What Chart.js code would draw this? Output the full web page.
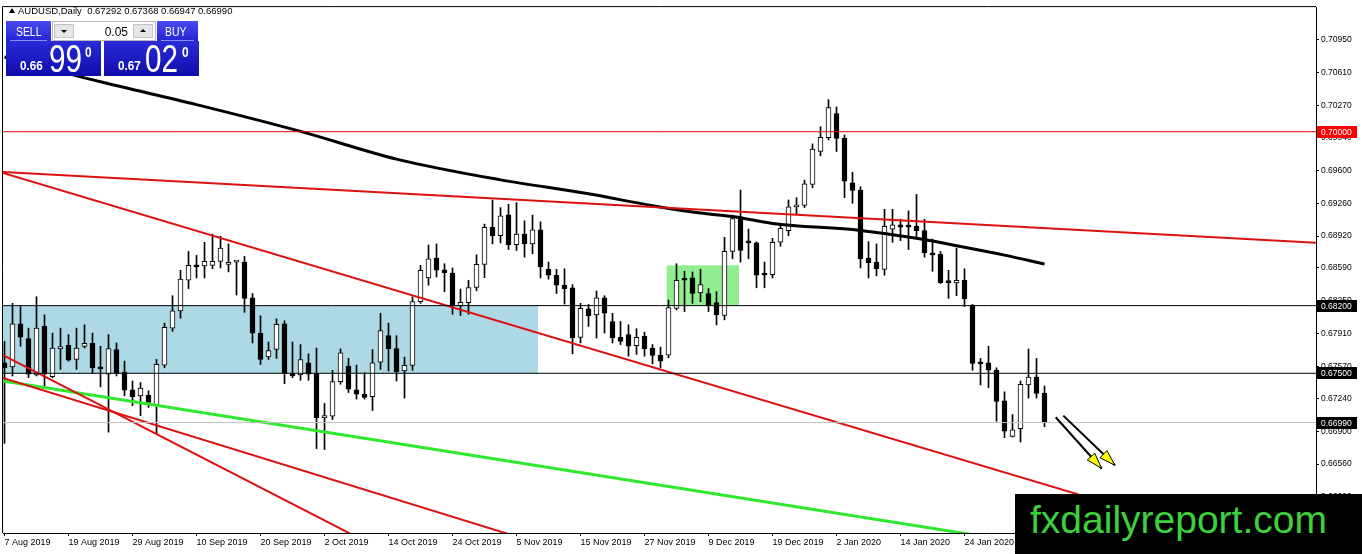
<!DOCTYPE html>
<html>
<head>
<meta charset="utf-8">
<script src="https://cdn.jsdelivr.net/npm/chart.js@4.4.1/dist/chart.umd.min.js"></script>
<style>
  html, body { margin: 0; padding: 0; background: #fff; }
  #wrap { position: relative; width: 1362px; height: 554px; overflow: hidden; font-family: "Liberation Sans", Arial, sans-serif; }
  #chart { position: absolute; left: 0; top: 0; }
  .abs { position: absolute; white-space: pre; }
  #title { left: 18px; top: 6px; font-size: 9.5px; line-height: 9.5px; color: #000; }
  #tri { left: 9px; top: 8px; width: 0; height: 0; border-left: 3px solid transparent; border-right: 3px solid transparent; border-bottom: 5px solid #000; }
  .btn { background: linear-gradient(#4a4af2, #2424d4); color: #fff; height: 20px; top: 21px; }
  .btn span { position: absolute; font-size: 13px; line-height: 13px; top: 4px; transform: scaleX(0.8); transform-origin: left top; }
  .btn i { position: absolute; left: 4px; right: 4px; bottom: 0; height: 1px; background: #8a8aff; }
  #stepper { left: 52px; top: 21px; width: 104px; height: 20px; background: #fff; box-sizing: border-box; border: 1px solid #b8b8b8; }
  .arrowBtn { position: absolute; top: 2px; width: 20px; height: 14px; background: #e6e6e6; border: 1px solid #c4c4c4; box-sizing: border-box; }
  .arrowBtn b { position: absolute; left: 6px; width: 0; height: 0; border-left: 3px solid transparent; border-right: 3px solid transparent; }
  #lot { position: absolute; right: 27px; top: 4px; font-size: 12px; line-height: 12px; color: #000; }
  .quote { top: 41px; width: 95px; height: 35px; background: linear-gradient(#2a2ad8, #0e0eaa); color: #fff; }
  .quote span { position: absolute; transform-origin: left top; }
  .small { font-size: 13px; line-height: 13px; font-weight: bold; top: 18px; transform: scaleX(0.9); }
  .big { font-size: 38px; line-height: 38px; top: -1px; transform: scaleX(0.78); }
  .sup { font-size: 14px; line-height: 14px; font-weight: bold; top: 4px; transform: scaleX(0.85); }
  #brand { left: 1015px; top: 494px; width: 347px; height: 60px; background: #000; }
  #brand span { position: absolute; left: 15px; top: 6px; font-size: 39px; line-height: 39px; color: #3dd13d; }
</style>
</head>
<body>
<div id="wrap">
  <canvas id="chart" width="1362" height="554"></canvas>
  <div class="abs" id="tri"></div>
  <div class="abs" id="title">AUDUSD,Daily  0.67292 0.67368 0.66947 0.66990</div>
  <div class="abs btn" style="left:6px;width:45px;"><span style="left:10px;">SELL</span><i></i></div>
  <div class="abs" id="stepper">
    <div class="arrowBtn" style="left:1px;"><b style="top:5px;border-top:3px solid #000;"></b></div>
    <div id="lot">0.05</div>
    <div class="arrowBtn" style="left:80px;"><b style="top:4px;border-bottom:3px solid #000;"></b></div>
  </div>
  <div class="abs btn" style="left:157px;width:41px;"><span style="left:8px;">BUY</span><i></i></div>
  <div class="abs quote" style="left:6px;">
    <span class="small" style="left:14px;">0.66</span>
    <span class="big" style="left:43px;">99</span>
    <span class="sup" style="left:79px;">0</span>
  </div>
  <div class="abs quote" style="left:104px;">
    <span class="small" style="left:14px;">0.67</span>
    <span class="big" style="left:41px;">02</span>
    <span class="sup" style="left:78px;">0</span>
  </div>
  <div class="abs" id="brand"><span>fxdailyreport.com</span></div>
</div>
<script>
// AUDUSD daily, one bar per trading day from 7 Aug 2019
const xTickLabels = ['7 Aug 2019', '19 Aug 2019', '29 Aug 2019', '10 Sep 2019', '20 Sep 2019', '2 Oct 2019',
  '14 Oct 2019', '24 Oct 2019', '5 Nov 2019', '15 Nov 2019', '27 Nov 2019', '9 Dec 2019', '19 Dec 2019',
  '2 Jan 2020', '14 Jan 2020', '24 Jan 2020'];
const barsPerLabel = 8;

const yTicks = [0.70950, 0.70610, 0.70270, 0.69940, 0.69600, 0.69260, 0.68920, 0.68590, 0.68250,
  0.67910, 0.67570, 0.67240, 0.66900, 0.66560, 0.66220];

const opens = [
  0.67609, 0.67565, 0.68012, 0.67859, 0.67483, 0.67985, 0.67465, 0.67752, 0.67790, 0.67643,
  0.67777, 0.67810, 0.67565, 0.67490, 0.67746, 0.67513, 0.67329, 0.67267, 0.67274, 0.67175,
  0.67585, 0.67967, 0.68146, 0.68463, 0.68617, 0.68610, 0.68617, 0.68658, 0.68627, 0.68651,
  0.68651, 0.68282, 0.67916, 0.67670, 0.67746, 0.68012, 0.67496, 0.67483, 0.67609, 0.67496,
  0.67039, 0.67055, 0.67414, 0.67575, 0.67329, 0.67285, 0.67257, 0.67616, 0.67889, 0.67756,
  0.67524, 0.67582, 0.68241, 0.68487, 0.68692, 0.68572, 0.68538, 0.68200, 0.68231, 0.68388,
  0.68627, 0.69010, 0.68925, 0.69140, 0.68832, 0.68941, 0.68839, 0.68986, 0.68576, 0.68515,
  0.68412, 0.68385, 0.67872, 0.68166, 0.68105, 0.68282, 0.68036, 0.67872, 0.67900, 0.67787,
  0.67882, 0.67762, 0.67688, 0.67688, 0.68172, 0.68474, 0.68487, 0.68333, 0.68326, 0.68231,
  0.68098, 0.68761, 0.69119, 0.68856, 0.68849, 0.68528, 0.68521, 0.68856, 0.68976, 0.69222,
  0.69238, 0.69454, 0.69796, 0.69939, 0.70189, 0.69932, 0.69471, 0.69396, 0.68692, 0.68651,
  0.68576, 0.68992, 0.69037, 0.69027, 0.69020, 0.68976, 0.68733, 0.68730, 0.68446, 0.68436,
  0.68463, 0.68207, 0.67609, 0.67609, 0.67531, 0.67216, 0.66847, 0.66926, 0.67380, 0.67462,
  0.67292];
const highs = [
  0.67831, 0.68224, 0.68190, 0.67967, 0.68292, 0.68105, 0.67916, 0.67967, 0.67900, 0.67967,
  0.68002, 0.67916, 0.67780, 0.67900, 0.67814, 0.67626, 0.67421, 0.67404, 0.67319, 0.67643,
  0.68019, 0.68303, 0.68566, 0.68761, 0.68720, 0.68856, 0.68941, 0.68918, 0.68839, 0.68660,
  0.68709, 0.68326, 0.68094, 0.67824, 0.68064, 0.68043, 0.67824, 0.67797, 0.67701, 0.67762,
  0.67188, 0.67531, 0.67752, 0.67654, 0.67585, 0.67506, 0.67746, 0.68121, 0.68019, 0.67889,
  0.67667, 0.68292, 0.68617, 0.68828, 0.68839, 0.68634, 0.68590, 0.68371, 0.68463, 0.68726,
  0.69044, 0.69294, 0.69215, 0.69249, 0.69266, 0.69078, 0.69136, 0.69068, 0.68651, 0.68576,
  0.68582, 0.68418, 0.68224, 0.68213, 0.68351, 0.68303, 0.68121, 0.68036, 0.68002, 0.67961,
  0.67926, 0.67797, 0.67770, 0.68258, 0.68634, 0.68556, 0.68549, 0.68576, 0.68377, 0.68344,
  0.68907, 0.69136, 0.69396, 0.68992, 0.68860, 0.68651, 0.68897, 0.69044, 0.69294, 0.69317,
  0.69499, 0.69874, 0.70052, 0.70332, 0.70257, 0.69966, 0.69581, 0.69430, 0.68863, 0.68839,
  0.69197, 0.69197, 0.69095, 0.69181, 0.69351, 0.69095, 0.68890, 0.68761, 0.68566, 0.68795,
  0.68582, 0.68213, 0.67654, 0.67780, 0.67557, 0.67308, 0.67073, 0.67421, 0.67752, 0.67654,
  0.67368];
const lows = [
  0.66775, 0.67472, 0.67780, 0.67455, 0.67472, 0.67352, 0.67455, 0.67541, 0.67626, 0.67541,
  0.67762, 0.67506, 0.67360, 0.66891, 0.67472, 0.67267, 0.67165, 0.67062, 0.67147, 0.66875,
  0.67557, 0.67934, 0.68070, 0.68377, 0.68487, 0.68487, 0.68582, 0.68590, 0.68549, 0.68310,
  0.68131, 0.67814, 0.67592, 0.67643, 0.67654, 0.67393, 0.67455, 0.67428, 0.67428, 0.66721,
  0.66711, 0.67021, 0.67387, 0.67301, 0.67233, 0.67233, 0.67114, 0.67541, 0.67524, 0.67421,
  0.67244, 0.67531, 0.68224, 0.68412, 0.68497, 0.68344, 0.68111, 0.68098, 0.68111, 0.68354,
  0.68490, 0.68839, 0.68849, 0.68781, 0.68771, 0.68702, 0.68736, 0.68487, 0.68474, 0.68326,
  0.68217, 0.67701, 0.67814, 0.67985, 0.67865, 0.67916, 0.67814, 0.67797, 0.67677, 0.67695,
  0.67677, 0.67598, 0.67557, 0.67660, 0.68156, 0.68139, 0.68224, 0.68241, 0.68139, 0.68002,
  0.68053, 0.68685, 0.68651, 0.68685, 0.68385, 0.68385, 0.68487, 0.68815, 0.68925, 0.69146,
  0.69215, 0.69420, 0.69751, 0.69915, 0.69796, 0.69317, 0.69259, 0.68590, 0.68487, 0.68508,
  0.68515, 0.68856, 0.68873, 0.68781, 0.68890, 0.68702, 0.68556, 0.68429, 0.68275, 0.68303,
  0.68190, 0.67531, 0.67380, 0.67352, 0.67004, 0.66834, 0.66840, 0.66789, 0.67244, 0.67244,
  0.66947];
const closes = [
  0.67557, 0.68012, 0.67875, 0.67490, 0.67967, 0.67490, 0.67762, 0.67777, 0.67636, 0.67762,
  0.67810, 0.67557, 0.67547, 0.67756, 0.67500, 0.67326, 0.67257, 0.67346, 0.67199, 0.67592,
  0.67975, 0.68146, 0.68474, 0.68617, 0.68603, 0.68658, 0.68658, 0.68795, 0.68644, 0.68651,
  0.68275, 0.67916, 0.67643, 0.67736, 0.68008, 0.67500, 0.67472, 0.67643, 0.67490, 0.67039,
  0.67062, 0.67414, 0.67711, 0.67336, 0.67285, 0.67250, 0.67609, 0.67941, 0.67756, 0.67516,
  0.67582, 0.68241, 0.68566, 0.68685, 0.68566, 0.68541, 0.68207, 0.68234, 0.68388, 0.68627,
  0.69010, 0.68925, 0.69130, 0.68828, 0.68941, 0.68839, 0.68986, 0.68600, 0.68515, 0.68412,
  0.68377, 0.67865, 0.68172, 0.68094, 0.68282, 0.68121, 0.67865, 0.67831, 0.67780, 0.67872,
  0.67752, 0.67684, 0.67626, 0.68180, 0.68463, 0.68463, 0.68326, 0.68418, 0.68200, 0.68105,
  0.68761, 0.69102, 0.68771, 0.68849, 0.68515, 0.68515, 0.68856, 0.69000, 0.69222, 0.69242,
  0.69461, 0.69820, 0.69943, 0.70250, 0.69932, 0.69488, 0.69392, 0.68685, 0.68644, 0.68582,
  0.69020, 0.69037, 0.69013, 0.69013, 0.68976, 0.68746, 0.68726, 0.68439, 0.68439, 0.68463,
  0.68269, 0.67602, 0.67598, 0.67531, 0.67209, 0.66901, 0.66916, 0.67387, 0.67462, 0.67291,
  0.66990];

// moving average, read at a few bars
const maBars = [0, 12, 24, 37, 49, 62, 73, 81, 87, 91, 96, 107, 114, 120, 125, 130];
const maValues = [0.70773, 0.70517, 0.70281, 0.70004, 0.69717, 0.69502, 0.69358, 0.69235, 0.69158,
  0.69123, 0.69051, 0.68979, 0.68897, 0.68805, 0.68723, 0.68631];

// drawn objects, as [bar, price] anchors
const upperRedLine = [[-0.19, 0.69584], [163.94, 0.68851]];
const channelRedLine = [[-0.19, 0.69574], [164, 0.65509]];
const steepRedLine = [[-0.19, 0.67688], [44, 0.65807]];
const lowRedLine = [[-0.19, 0.67452], [63, 0.65836]];
const greenLine = [[-0.19, 0.67421], [125, 0.65777]];
const redLevel = 0.70000;
const blackLevels = [0.68200, 0.67500];
const bidPrice = 0.66990;
const blueZone = [-0.19, 66.69, 0.68200, 0.67500];
const greenZone = [82.78, 91.81, 0.68617, 0.68200];
const arrowFrom = [[131.4, 0.67045], [132.35, 0.67062]];
const arrowTo = [[137.15, 0.66515], [138.81, 0.66548]];

const X_MIN = -0.1875, X_MAX = 163.9375;
const Y_MIN = 0.65847, Y_MAX = 0.71290;

const bars = opens.map((o, i) => i);
const pts = arr => arr.map(p => ({ x: p[0], y: p[1] }));
const flat = v => [{ x: X_MIN, y: v }, { x: X_MAX, y: v }];

function lineSet(data, color, width, extra) {
  return Object.assign({ type: 'line', data: data, borderColor: color, borderWidth: width,
    pointRadius: 0, fill: false, tension: 0, order: 0 }, extra || {});
}

const overlay = {
  id: 'overlay',
  beforeDatasetsDraw(chart) {
    const { ctx, chartArea: a, scales: { x, y } } = chart;
    ctx.save();
    ctx.beginPath();
    ctx.rect(a.left, a.top, a.right - a.left, a.bottom - a.top);
    ctx.clip();
    [[blueZone, '#add8e6'], [greenZone, '#90ee90']].forEach(([z, c]) => {
      const x0 = x.getPixelForValue(z[0]), x1 = x.getPixelForValue(z[1]);
      const y0 = y.getPixelForValue(z[2]), y1 = y.getPixelForValue(z[3]);
      ctx.fillStyle = c;
      ctx.fillRect(x0, y0, x1 - x0, y1 - y0);
    });
    ctx.restore();
  },
  afterDatasetsDraw(chart) {
    const { ctx, scales: { x, y } } = chart;
    ctx.save();
    arrowFrom.forEach((f, k) => {
      const t = arrowTo[k];
      const x0 = x.getPixelForValue(f[0]), y0 = y.getPixelForValue(f[1]);
      const x1 = x.getPixelForValue(t[0]), y1 = y.getPixelForValue(t[1]);
      const len = Math.hypot(x1 - x0, y1 - y0);
      const ux = (x1 - x0) / len, uy = (y1 - y0) / len;
      const bx = x1 - ux * 16, by = y1 - uy * 16;
      ctx.strokeStyle = '#000';
      ctx.lineWidth = 2;
      ctx.beginPath();
      ctx.moveTo(x0, y0);
      ctx.lineTo(x1, y1);
      ctx.stroke();
      ctx.beginPath();
      ctx.moveTo(x1, y1);
      ctx.lineTo(bx - uy * 5, by + ux * 5);
      ctx.lineTo(bx + uy * 5, by - ux * 5);
      ctx.closePath();
      ctx.fillStyle = '#ffff00';
      ctx.fill();
      ctx.lineWidth = 1;
      ctx.stroke();
    });
    ctx.restore();
  },
  afterDraw(chart) {
    const { ctx, chartArea: a, scales: { y } } = chart;
    ctx.save();
    // frame top and left
    ctx.strokeStyle = '#000';
    ctx.lineWidth = 1;
    ctx.beginPath();
    ctx.moveTo(a.left - 0.5, a.bottom);
    ctx.lineTo(a.left - 0.5, a.top - 0.5);
    ctx.lineTo(a.right, a.top - 0.5);
    ctx.stroke();
    // price tags on the axis
    ctx.font = '8.5px "Liberation Sans", Arial, sans-serif';
    ctx.textBaseline = 'middle';
    [[redLevel, '#ff0000'], [blackLevels[0], '#000'], [blackLevels[1], '#000'], [bidPrice, '#000']].forEach(([v, c]) => {
      const py = Math.round(y.getPixelForValue(v));
      ctx.fillStyle = c;
      ctx.fillRect(a.right + 1, py - 6, 40, 12);
      ctx.fillStyle = '#fff';
      ctx.fillText(v.toFixed(5), a.right + 5, py + 0.5);
    });
    ctx.restore();
  }
};

new Chart(document.getElementById('chart'), {
  type: 'bar',
  data: {
    datasets: [
      lineSet(flat(redLevel), '#e00000', 1),
      lineSet(flat(blackLevels[0]), '#000', 1),
      lineSet(flat(blackLevels[1]), '#000', 1),
      lineSet(flat(bidPrice), '#c0c0c0', 1),
      lineSet(pts(upperRedLine), '#dd1010', 2),
      lineSet(pts(channelRedLine), '#dd1010', 2),
      lineSet(pts(steepRedLine), '#dd1010', 2),
      lineSet(pts(lowRedLine), '#dd1010', 2),
      lineSet(pts(greenLine), '#2ee82e', 3),
      lineSet(maBars.map((b, k) => ({ x: b, y: maValues[k] })), '#000', 3,
        { tension: 0.4, cubicInterpolationMode: 'monotone' }),
      {
        label: 'body',
        data: bars.map(i => ({ x: i, y: [opens[i], closes[i]] })),
        backgroundColor: bars.map(i => closes[i] >= opens[i] ? '#ffffff' : '#000000'),
        borderColor: '#000',
        borderWidth: 1,
        borderSkipped: false,
        barThickness: 5,
        minBarLength: 2,
        grouped: false,
        order: 1
      },
      {
        label: 'wick',
        data: bars.map(i => ({ x: i, y: [lows[i], highs[i]] })),
        backgroundColor: '#000',
        borderWidth: 0,
        barThickness: 1,
        grouped: false,
        order: 2
      }
    ]
  },
  options: {
    responsive: false,
    animation: false,
    events: [],
    layout: { padding: { left: 3, top: 2, right: 0, bottom: 0 } },
    plugins: { legend: { display: false }, tooltip: { enabled: false } },
    scales: {
      x: {
        type: 'linear',
        min: X_MIN,
        max: X_MAX,
        offset: false,
        grid: { drawOnChartArea: false, drawTicks: true, tickLength: 3, color: '#000', offset: false },
        border: { display: true, color: '#000', width: 1 },
        afterBuildTicks: s => { s.ticks = xTickLabels.map((t, k) => ({ value: k * barsPerLabel })); },
        afterFit: s => { s.height = 21; },
        ticks: {
          autoSkip: false,
          maxRotation: 0,
          align: 'start',
          padding: 1,
          color: '#000',
          font: { family: '"Liberation Sans", Arial, sans-serif', size: 9 },
          callback: (v, k) => xTickLabels[k]
        }
      },
      y: {
        position: 'right',
        min: Y_MIN,
        max: Y_MAX,
        grid: { drawOnChartArea: false, drawTicks: true, tickLength: 3, color: '#000' },
        border: { display: true, color: '#000', width: 1 },
        afterBuildTicks: s => { s.ticks = yTicks.map(v => ({ value: v })); },
        afterFit: s => { s.width = 46; },
        ticks: {
          autoSkip: false,
          padding: 2,
          color: '#000',
          font: { family: '"Liberation Sans", Arial, sans-serif', size: 8.5 },
          callback: v => v.toFixed(5)
        }
      }
    }
  },
  plugins: [overlay]
});
</script>
</body>
</html>
